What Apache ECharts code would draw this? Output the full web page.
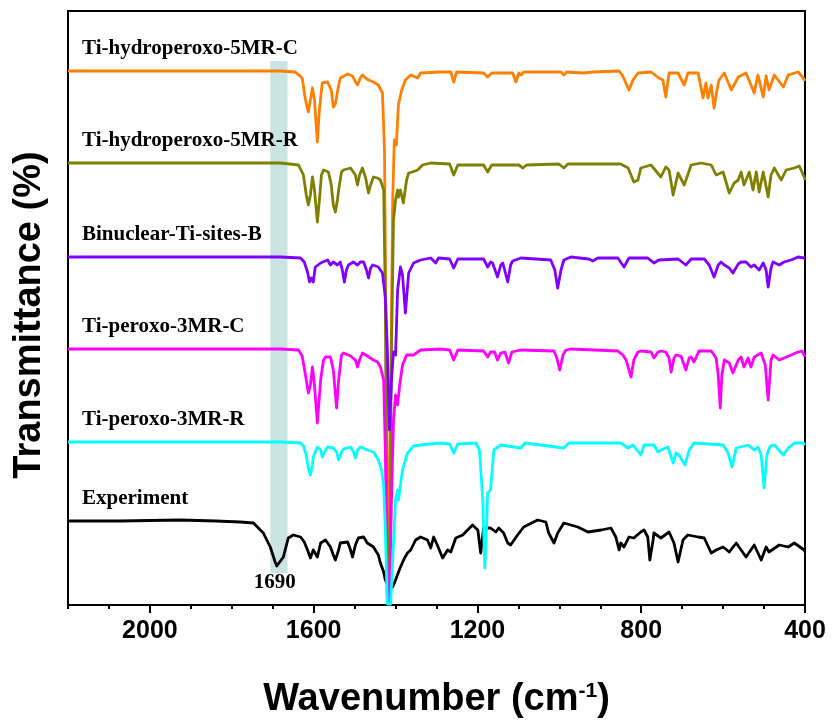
<!DOCTYPE html>
<html>
<head>
<meta charset="utf-8">
<script src="https://cdn.jsdelivr.net/npm/echarts@6/dist/echarts.min.js"></script>
<style>
html, body { margin: 0; padding: 0; background: #fff; }
#main { width: 835px; height: 722px; }
</style>
</head>
<body>
<div id="main"></div>
<script>
// wavenumber (cm-1), transmittance (offset, arbitrary units)
var experiment = [
    [2200,84],[2073,84],[1926,85],[1840,84],[1779,83],[1747,82],[1723,72],[1706,58],[1694,43],[1690,39],
    [1674,48],[1662,67],[1650,70],[1632,68],[1623,63],[1615,55],[1608,47],[1601,55],[1591,48],[1583,62],
    [1571,65],[1559,58],[1552,50],[1547,45],[1539,55],[1535,62],[1517,63],[1510,55],[1505,48],[1498,60],
    [1491,67],[1478,68],[1469,62],[1454,58],[1442,50],[1437,42],[1429,33],[1425,25],[1417,18],[1407,18],
    [1400,25],[1388,38],[1378,47],[1371,52],[1363,55],[1351,65],[1339,68],[1322,65],[1314,57],[1307,68],
    [1298,60],[1285,47],[1273,55],[1265,53],[1253,67],[1236,70],[1212,80],[1199,75],[1192,52],[1185,77],
    [1168,77],[1155,73],[1148,77],[1136,72],[1126,62],[1119,60],[1102,70],[1087,78],[1053,85],[1033,83],
    [1026,72],[1013,62],[1004,72],[989,82],[955,78],[930,73],[898,75],[874,77],[862,68],[854,55],
    [850,62],[842,58],[830,68],[818,67],[801,73],[793,75],[784,68],[779,45],[771,65],[769,72],
    [752,67],[732,73],[720,62],[710,43],[698,65],[686,70],[661,68],[646,67],[629,52],[617,55],
    [600,58],[585,53],[568,62],[556,55],[544,48],[524,60],[507,45],[495,58],[488,53],[463,60],
    [441,58],[426,62],[402,55],[400,53]
];

var hydroperoxo5C = [
    [2200,534],[1877,534],[1681,534],[1645,533],[1628,527],[1620,505],[1613,493],[1608,505],[1603,517],[1598,505],
    [1591,463],[1586,495],[1579,522],[1566,523],[1557,515],[1552,498],[1547,501],[1539,520],[1535,527],[1517,531],
    [1505,529],[1498,523],[1493,520],[1486,527],[1481,530],[1473,527],[1466,525],[1454,523],[1442,520],[1432,512],
    [1427,455],[1422,205],[1417,5],[1412,205],[1407,405],[1403,465],[1398,460],[1393,500],[1385,515],[1376,525],
    [1363,530],[1346,527],[1339,532],[1290,533],[1265,533],[1258,523],[1251,533],[1185,532],[1175,528],[1165,532],
    [1148,532],[1114,532],[1106,523],[1099,532],[1094,530],[1087,533],[996,533],[989,530],[982,533],[942,532],
    [918,533],[854,534],[845,529],[830,515],[820,525],[808,532],[776,533],[757,527],[747,525],[740,508],
    [732,532],[710,532],[695,520],[686,532],[661,532],[649,507],[642,522],[637,507],[629,520],[622,497],
    [615,515],[610,525],[597,532],[580,515],[563,528],[544,532],[524,512],[515,530],[502,508],[495,529],
    [488,515],[475,530],[453,518],[441,530],[417,533],[404,527],[400,524]
];

var hydroperoxo5R = [
    [2200,442],[1681,442],[1637,440],[1625,430],[1618,410],[1613,400],[1608,410],[1603,428],[1598,415],[1591,383],
    [1586,405],[1581,430],[1576,435],[1564,433],[1557,420],[1552,400],[1547,393],[1542,405],[1539,415],[1532,433],
    [1527,435],[1510,437],[1498,430],[1493,420],[1488,430],[1481,437],[1473,427],[1466,412],[1461,420],[1454,428],
    [1444,427],[1437,425],[1429,415],[1425,305],[1420,5],[1415,5],[1410,255],[1405,385],[1400,405],[1395,415],
    [1393,408],[1388,415],[1381,402],[1373,425],[1368,432],[1359,433],[1346,435],[1334,440],[1314,442],[1268,441],
    [1258,430],[1248,440],[1185,440],[1175,433],[1165,440],[1099,440],[1089,437],[1080,440],[1001,441],[989,437],
    [979,441],[850,441],[832,437],[818,423],[808,425],[801,437],[776,440],[752,428],[740,438],[732,435],
    [722,410],[710,432],[695,420],[678,440],[654,442],[629,440],[617,430],[600,433],[585,412],[573,422],
    [563,425],[556,433],[549,420],[536,433],[527,415],[519,433],[512,413],[502,433],[490,408],[483,430],
    [475,437],[458,425],[446,435],[426,437],[414,439],[402,428],[400,425]
];

var binuclearB = [
    [2200,348],[1681,348],[1632,347],[1623,343],[1615,333],[1610,323],[1606,327],[1601,323],[1596,338],[1583,342],
    [1566,345],[1559,340],[1552,343],[1542,340],[1535,343],[1530,335],[1525,323],[1520,335],[1515,340],[1503,343],
    [1493,340],[1486,343],[1478,343],[1471,335],[1466,327],[1461,337],[1456,340],[1442,338],[1432,332],[1425,308],
    [1420,255],[1415,175],[1410,225],[1405,253],[1400,250],[1395,315],[1388,338],[1383,330],[1376,292],[1368,332],
    [1356,342],[1339,345],[1314,347],[1302,342],[1295,347],[1268,346],[1258,337],[1248,346],[1185,346],[1175,338],
    [1168,343],[1163,342],[1151,328],[1143,340],[1138,342],[1126,323],[1119,340],[1114,344],[1094,347],[1021,345],
    [1011,335],[1004,317],[996,335],[989,345],[972,348],[928,346],[918,344],[906,347],[857,347],[842,338],
    [830,347],[784,347],[769,342],[757,345],[710,346],[691,340],[678,346],[646,346],[634,340],[622,328],
    [612,340],[605,343],[597,340],[585,337],[576,332],[563,341],[556,343],[544,343],[532,338],[524,340],
    [512,335],[502,342],[495,335],[490,318],[483,337],[478,343],[463,340],[451,343],[434,345],[417,348],
    [402,347],[400,347]
];

var peroxo3C = [
    [2200,256],[1681,256],[1637,255],[1628,249],[1620,230],[1613,212],[1608,220],[1603,238],[1598,220],[1591,182],
    [1583,225],[1576,245],[1571,248],[1559,248],[1552,235],[1544,197],[1539,225],[1532,250],[1527,252],[1510,249],
    [1498,245],[1493,238],[1488,245],[1481,252],[1469,249],[1454,245],[1444,243],[1437,238],[1429,225],[1425,155],
    [1420,2],[1415,2],[1410,105],[1405,185],[1400,210],[1395,200],[1390,220],[1383,240],[1373,250],[1356,250],
    [1339,255],[1290,256],[1268,255],[1258,245],[1248,255],[1185,254],[1175,248],[1168,253],[1158,253],[1151,245],
    [1143,252],[1133,253],[1124,242],[1116,253],[1094,255],[1013,254],[1006,247],[999,235],[991,250],[984,255],
    [972,256],[857,254],[845,250],[837,245],[825,228],[818,245],[808,253],[801,254],[776,253],[769,247],
    [759,253],[752,254],[740,253],[732,247],[727,233],[720,247],[715,250],[703,249],[691,235],[683,247],
    [678,248],[671,243],[659,254],[629,254],[617,247],[612,230],[607,197],[603,230],[597,245],[585,242],
    [576,232],[563,245],[556,248],[549,238],[539,247],[532,238],[524,248],[507,252],[497,240],[490,205],
    [483,245],[478,250],[463,245],[451,247],[434,250],[417,253],[407,254],[400,248]
];

var peroxo3R = [
    [2200,163],[1681,163],[1632,162],[1625,159],[1618,150],[1613,137],[1608,130],[1603,140],[1601,148],[1591,158],
    [1583,155],[1579,148],[1571,155],[1566,158],[1552,157],[1544,153],[1539,145],[1532,153],[1527,156],[1510,158],
    [1503,153],[1498,147],[1493,155],[1486,158],[1469,155],[1454,153],[1442,145],[1434,135],[1429,118],[1425,75],
    [1420,1],[1412,1],[1407,45],[1400,105],[1395,115],[1393,105],[1388,120],[1383,135],[1371,152],[1356,159],
    [1339,160],[1290,162],[1268,161],[1258,152],[1248,161],[1204,162],[1195,155],[1187,105],[1182,37],[1177,85],
    [1175,112],[1168,115],[1160,155],[1143,160],[1094,157],[1084,162],[989,157],[977,162],[850,162],[832,157],
    [820,160],[801,150],[793,160],[769,160],[759,153],[752,155],[735,158],[722,142],[715,152],[708,150],
    [693,140],[683,155],[671,162],[600,160],[588,152],[578,138],[568,157],[539,160],[524,155],[515,158],
    [507,150],[500,117],[493,150],[485,159],[475,160],[453,150],[441,157],[426,162],[404,162],[400,160]
];

var seriesNames = ['Experiment', 'Ti-hydroperoxo-5MR-C', 'Ti-hydroperoxo-5MR-R',
    'Binuclear-Ti-sites-B', 'Ti-peroxo-3MR-C', 'Ti-peroxo-3MR-R'];
var seriesData = [experiment, hydroperoxo5C, hydroperoxo5R, binuclearB, peroxo3C, peroxo3R];
var seriesColors = ['#000000', '#FF8000', '#808000', '#8000FF', '#FF00FF', '#00FFFF'];

var majorTicks = [2000, 1600, 1200, 800, 400];
var bandRange = [1706, 1664];
var bandLabel = '1690';

var chart = echarts.init(document.getElementById('main'), null, {renderer: 'canvas'});

var series = seriesData.map(function (d, i) {
    return {
        name: seriesNames[i],
        type: 'line',
        data: d,
        showSymbol: false,
        symbol: 'none',
        smooth: false,
        lineStyle: {color: seriesColors[i], width: 2.8, join: 'round'},
        itemStyle: {color: seriesColors[i]},
        z: 2 + i,
        silent: true
    };
});

// highlighted band
series.push({
    type: 'line',
    data: [],
    silent: true,
    z: 20,
    markArea: {
        silent: true,
        itemStyle: {color: 'rgba(150,200,200,0.5)'},
        data: [[{xAxis: bandRange[0], yAxis: 544}, {xAxis: bandRange[1], yAxis: 32}]]
    }
});

var option = {
    animation: false,
    backgroundColor: '#fff',
    grid: {
        left: 68, right: 30, top: 11, bottom: 117,
        show: true, borderColor: '#000', borderWidth: 2,
        containLabel: false
    },
    xAxis: [{
        type: 'value',
        min: 400, max: 2200,
        inverse: true,
        interval: 100,
        splitLine: {show: false},
        axisLine: {lineStyle: {color: '#000', width: 2}},
        axisTick: {length: 4, lineStyle: {color: '#000', width: 2}},
        axisLabel: {
            customValues: majorTicks,
            formatter: function (v) { return String(v); },
            color: '#000',
            fontFamily: 'Liberation Sans',
            fontWeight: 'bold',
            fontSize: 25,
            margin: 14
        }
    }, {
        type: 'value',
        min: 400, max: 2200,
        inverse: true,
        position: 'bottom',
        splitLine: {show: false},
        axisLine: {show: false},
        axisTick: {customValues: majorTicks, length: 8, lineStyle: {color: '#000', width: 2}},
        axisLabel: {show: false}
    }],
    yAxis: {
        type: 'value',
        min: 0, max: 594,
        show: true,
        splitLine: {show: false},
        axisLine: {show: true, lineStyle: {color: '#000', width: 2}},
        axisTick: {show: false},
        axisLabel: {show: false}
    },
    series: series
};

chart.setOption(option);

function px(p) {
    return chart.convertToPixel({xAxisIndex: 0, yAxisIndex: 0}, p);
}

var graphics = [];
seriesData.forEach(function (d, i) {
    var p = px(d[0]);
    graphics.push({
        type: 'text',
        x: p[0] + 14,
        y: p[1] - 22,
        z: 50,
        style: {
            text: seriesNames[i],
            fill: '#000',
            font: 'bold 21px "Liberation Serif"',
            align: 'left',
            verticalAlign: 'middle'
        }
    });
});

var minPt = px([1690, 39]);
graphics.push({
    type: 'text',
    x: minPt[0] - 2,
    y: minPt[1] + 17,
    z: 50,
    style: {
        text: bandLabel,
        fill: '#000',
        font: 'bold 21px "Liberation Serif"',
        align: 'center',
        verticalAlign: 'middle'
    }
});

var gridLeft = px([2200, 0]), gridRight = px([400, 594]);
graphics.push({
    type: 'text',
    x: (gridLeft[0] + gridRight[0]) / 2,
    y: 700,
    style: {
        text: '{a|Wavenumber (cm}{b|-1}{a|)}',
        fill: '#000',
        align: 'center',
        verticalAlign: 'middle',
        rich: {
            a: {font: 'bold 38px "Liberation Sans"', fill: '#000'},
            b: {font: 'bold 21px "Liberation Sans"', fill: '#000', verticalAlign: 'top'}
        }
    }
});
graphics.push({
    type: 'text',
    x: 30,
    y: 315,
    rotation: Math.PI / 2,
    style: {
        text: 'Transmittance (%)',
        fill: '#000',
        font: 'bold 38px "Liberation Sans"',
        align: 'center',
        verticalAlign: 'middle'
    }
});

chart.setOption({graphic: graphics});
</script>
</body>
</html>
